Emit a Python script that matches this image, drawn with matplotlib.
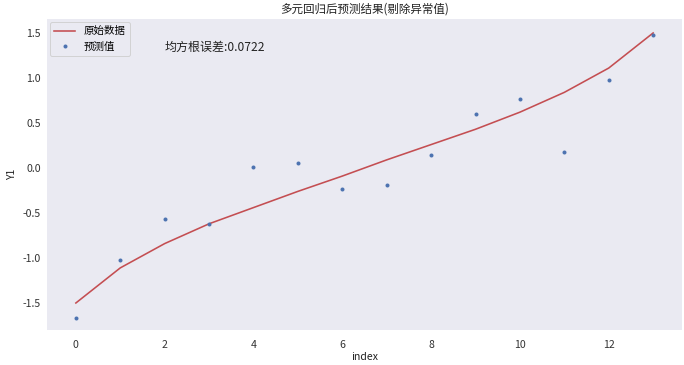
import matplotlib
matplotlib.use("Agg")
import matplotlib.pyplot as plt

plt.rcParams['font.family'] = ['Noto Sans CJK SC', 'DejaVu Sans']
plt.rcParams['axes.unicode_minus'] = False

index = list(range(14))
original = [-1.50, -1.11, -0.84, -0.62, -0.44, -0.26, -0.09,
            0.09, 0.26, 0.43, 0.62, 0.84, 1.11, 1.50]
predicted = [-1.663, -1.02, -0.563, -0.619, 0.007, 0.052, -0.23,
             -0.185, 0.144, 0.604, 0.77, 0.178, 0.978, 1.474]
rmse_text = "均方根误差:0.0722"
title = "多元回归后预测结果(剔除异常值)"

fig = plt.figure(figsize=(684 / 72, 365 / 72), dpi=72)
ax = fig.add_axes([47 / 684, 35 / 365, 635 / 684, 311 / 365])
ax.set_facecolor('#EAEAF2')
for s in ax.spines.values():
    s.set_visible(False)
ax.grid(False)

ax.plot(index, original, color='#C44E52', lw=1.6, label='原始数据')
ax.plot(index, predicted, '.', color='#4C72B0', ms=6, label='预测值')

ax.text(2, 1.3, rmse_text, fontsize=12, color='#222222')

ax.set_ylim(-1.80, 1.655)
ax.set_xlim(-0.65, 13.65)
ax.set_title(title, fontsize=11.5, color='#222222', pad=6)
ax.set_xlabel('index', fontsize=10.5, color='#222222', labelpad=2)
ax.set_ylabel('Y1', fontsize=10.5, color='#222222', labelpad=6)
ax.set_xticks([0, 2, 4, 6, 8, 10, 12])
ax.set_yticks([-1.5, -1.0, -0.5, 0.0, 0.5, 1.0, 1.5])
ax.tick_params(axis='x', length=0, labelsize=10.5, labelcolor='#333333', pad=10)
ax.tick_params(axis='y', length=0, labelsize=10.5, labelcolor='#333333', pad=6)

leg = ax.legend(loc='upper left', fontsize=10.5, frameon=True,
                facecolor='#EAEAF2', edgecolor='#CCCCCC', framealpha=0.8,
                borderaxespad=0.3, handlelength=2.0)

fig.savefig('out.png', dpi=72)
